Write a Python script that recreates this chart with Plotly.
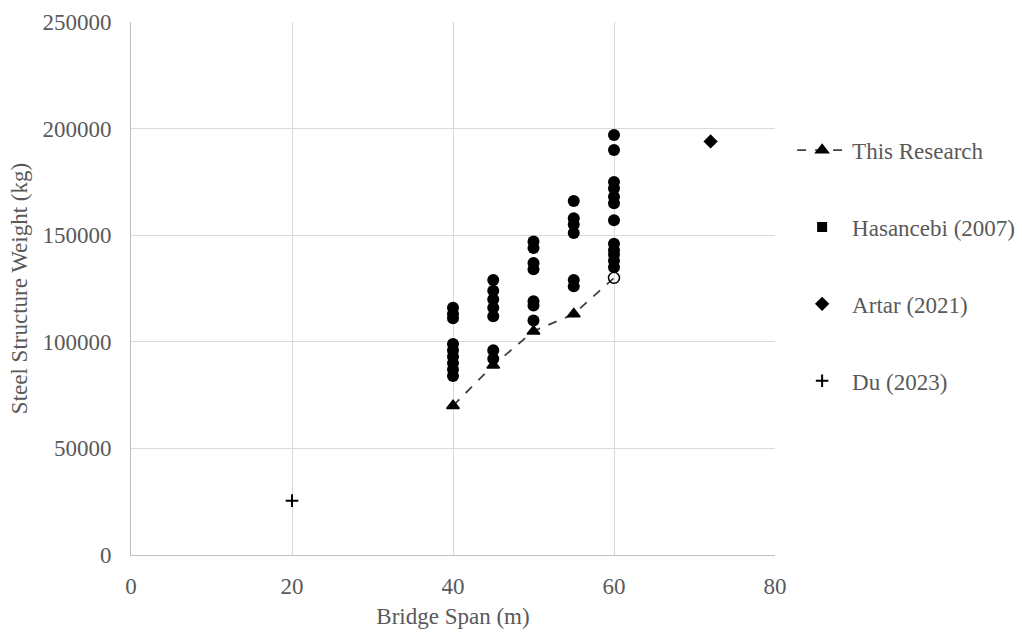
import plotly.graph_objects as go

# This Research
tr_x = [40, 45, 50, 55, 60]
tr_y = [70000, 89000, 105000, 113000, 130000]
tr_symbols = ["triangle-up", "triangle-up", "triangle-up", "triangle-up", "circle-open"]

# Hasancebi (2007)
h_x = [40, 40, 40, 40, 40, 40, 40, 40, 40,
       45, 45, 45, 45, 45, 45, 45,
       50, 50, 50, 50, 50, 50, 50,
       55, 55, 55, 55, 55, 55,
       60, 60, 60, 60, 60, 60, 60, 60, 60, 60, 60, 60]
h_y = [116000, 113000, 111000, 99000, 96000, 93000, 90000, 87000, 84000,
       129000, 124000, 120000, 116000, 112000, 96000, 92000,
       147000, 144000, 137000, 134000, 119000, 117000, 110000,
       166000, 158000, 155000, 151000, 129000, 126000,
       197000, 190000, 175000, 172000, 168000, 165000, 157000, 146000, 143000, 141000, 138000, 135000]

# Artar (2021)
a_x = [72]
a_y = [194000]

# Du (2023)
d_x = [20]
d_y = [25500]

x_ticks = [0, 20, 40, 60, 80]
y_ticks = [0, 50000, 100000, 150000, 200000, 250000]

FONT = "Liberation Serif"
GRAY = "#595959"
FS = 23

fig = go.Figure()
fig.add_trace(go.Scatter(
    x=tr_x, y=tr_y, mode="lines+markers", name="This Research",
    line=dict(color="#404040", width=1.8, dash="dash"),
    marker=dict(symbol=tr_symbols, size=11, color="black",
                line=dict(color="black", width=1.5)),
    legendgroup="a",
))
fig.add_trace(go.Scatter(
    x=h_x, y=h_y, mode="markers", name="Hasancebi (2007)",
    marker=dict(symbol="circle", size=12, color="black"),
    showlegend=False,
))
fig.add_trace(go.Scatter(
    x=[None], y=[None], mode="markers", name="Hasancebi (2007)",
    marker=dict(symbol="square", size=10, color="black"),
    legendgroup="b",
))
fig.add_trace(go.Scatter(
    x=a_x, y=a_y, mode="markers", name="Artar (2021)",
    marker=dict(symbol="diamond", size=11, color="black"),
    legendgroup="c",
))
fig.add_trace(go.Scatter(
    x=d_x, y=d_y, mode="markers", name="Du (2023)",
    marker=dict(symbol="cross-thin", size=9, color="black",
                line=dict(color="black", width=2)),
    legendgroup="d",
))

axis_common = dict(
    showgrid=True, gridcolor="#d9d9d9", gridwidth=1,
    showline=True, linecolor="#bfbfbf", linewidth=1,
    zeroline=False, ticks="", automargin=False,
    tickfont=dict(family=FONT, size=FS, color=GRAY),
    title_font=dict(family=FONT, size=FS, color=GRAY),
)

fig.update_layout(
    width=1022, height=632,
    margin=dict(l=131, r=0, t=22, b=77, autoexpand=False),
    paper_bgcolor="white", plot_bgcolor="white",
    showlegend=True,
    legend=dict(
        x=0.742, y=0.80, xanchor="left", yanchor="top",
        font=dict(family=FONT, size=FS, color=GRAY),
        traceorder="grouped", tracegroupgap=44, itemwidth=50,
        bgcolor="rgba(0,0,0,0)",
    ),
    xaxis=dict(range=[0, 80], tickvals=x_ticks, title_text="Bridge Span (m)",
               domain=[0, 644 / 891],
               ticklabelstandoff=10, title_standoff=10, **axis_common),
    yaxis=dict(range=[0, 250000], tickvals=y_ticks,
               ticktext=[str(v) for v in y_ticks],
               title_text="Steel Structure Weight (kg)",
               ticklabelstandoff=14, title_standoff=8, **axis_common),
)

fig.write_html("out.html")
